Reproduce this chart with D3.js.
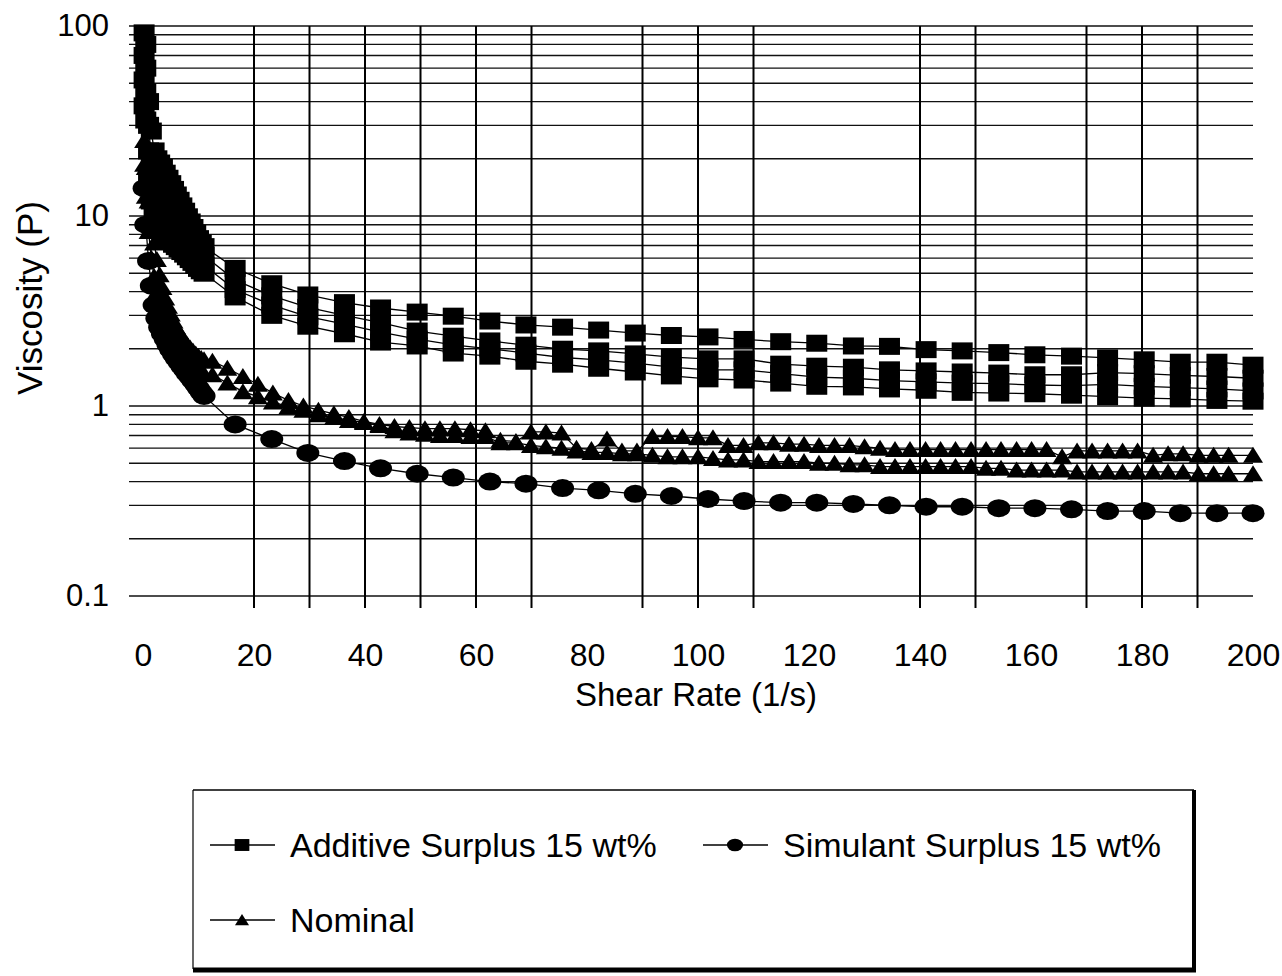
<!DOCTYPE html>
<html><head><meta charset="utf-8">
<script src="https://cdn.jsdelivr.net/npm/d3@7/dist/d3.min.js"></script>
<style>
body{margin:0;background:#fff}
svg{display:block}
text{font-family:"Liberation Sans",Arial,Helvetica,sans-serif;fill:#000}
</style>
</head><body>
<svg id="chart" width="1282" height="976"></svg>
<script>
// ---------- data ----------
const lowShear = [0.2,0.5,1,1.5,2,2.5,3,3.5,4,4.5,5,5.5,6,6.5,7,7.5,8,8.5,9,9.5,10,10.5,11];
const stepShear = [16.6,23.2,29.7,36.3,42.8,49.4,55.9,62.5,69.0,75.6,82.1,88.7,95.2,101.8,108.3,114.9,121.4,128.0,134.5,141.1,147.6,154.2,160.7,167.3,173.8,180.4,186.9,193.5,200.0];
const nominalStepShear = [12.5,15.2,18.0,20.7,23.4,26.2,28.9,31.6,34.4,37.1,39.8,42.6,45.3,48.0,50.8,53.5,56.2,59.0,61.7,64.4,67.2,69.9,72.6,75.4,78.1,80.8,83.6,86.3,89.0,91.8,94.5,97.2,100.0,102.7,105.4,108.2,110.9,113.6,116.4,119.1,121.8,124.6,127.3,130.0,132.8,135.5,138.2,141.0,143.7,146.4,149.2,151.9,154.6,157.4,160.1,162.8,165.6,168.3,171.0,173.8,176.5,179.2,182.0,184.7,187.4,190.2,192.9,195.6,200.0];

const additiveRun1 = [92,80,40,28,22,20,19,18,16.8,15.8,14.8,13.8,12.9,12.1,11.3,10.6,9.9,9.3,8.7,8.1,7.6,7.2,6.9,
  5.3,4.4,3.84,3.5,3.28,3.12,2.97,2.80,2.67,2.6,2.51,2.42,2.35,2.31,2.24,2.18,2.14,2.07,2.06,1.98,1.95,1.91,1.86,1.83,1.79,1.75,1.70,1.70,1.64];
const additiveRun2 = [70,60,30,20,16.5,14.8,13.6,12.8,12.0,11.4,10.9,10.4,9.9,9.5,9.1,8.7,8.3,7.9,7.5,7.1,6.8,6.5,6.2,
  4.6,3.8,3.3,3.0,2.75,2.48,2.33,2.2,2.09,1.99,1.95,1.88,1.81,1.77,1.77,1.66,1.62,1.6,1.55,1.53,1.51,1.49,1.46,1.46,1.5,1.48,1.45,1.43,1.4];
const additiveRun3 = [52,45,22,15,12.8,11.6,10.8,10.2,9.6,9.2,8.8,8.5,8.2,7.9,7.6,7.3,7.0,6.7,6.4,6.1,5.9,5.7,5.5,
  4.1,3.4,2.95,2.7,2.45,2.25,2.1,2.0,1.9,1.8,1.75,1.68,1.6,1.55,1.55,1.48,1.42,1.4,1.36,1.34,1.32,1.31,1.29,1.28,1.3,1.27,1.25,1.23,1.2];
const additiveRun4 = [38,32,16,12,10.3,9.4,8.8,8.3,8.0,7.7,7.4,7.1,6.9,6.7,6.5,6.3,6.1,5.9,5.7,5.5,5.3,5.15,5.0,
  3.75,3.0,2.63,2.4,2.17,2.07,1.9,1.83,1.72,1.66,1.58,1.51,1.44,1.39,1.37,1.32,1.27,1.26,1.23,1.21,1.18,1.17,1.16,1.14,1.12,1.10,1.09,1.07,1.06];
const simulantRun = [14,9,5.8,4.3,3.4,2.9,2.6,2.4,2.25,2.1,1.98,1.87,1.78,1.7,1.62,1.55,1.48,1.42,1.36,1.3,1.24,1.18,1.13,
  0.80,0.67,0.566,0.513,0.47,0.44,0.42,0.40,0.39,0.37,0.36,0.345,0.336,0.324,0.316,0.31,0.31,0.305,0.30,0.295,0.295,0.29,0.29,0.286,0.28,0.28,0.273,0.273,0.273];
const nominalRun1 = [25,18,12,8.8,7.2,5.9,4.9,4.2,3.7,3.35,3.05,2.8,2.6,2.45,2.3,2.2,2.1,2.02,1.95,1.88,1.82,1.78,1.75,
  1.72,1.58,1.43,1.30,1.17,1.07,1.00,0.95,0.91,0.87,0.83,0.80,0.78,0.77,0.76,0.76,0.76,0.75,0.74,0.66,0.65,0.73,0.73,0.72,0.60,0.59,0.67,0.58,0.58,
  0.69,0.69,0.69,0.68,0.68,0.62,0.62,0.64,0.64,0.63,0.63,0.62,0.62,0.62,0.61,0.60,0.59,0.59,0.59,0.59,0.59,0.59,0.59,0.59,0.59,0.59,0.59,0.54,
  0.58,0.58,0.58,0.58,0.58,0.55,0.56,0.56,0.55,0.55,0.55,0.55];
const nominalRun2 = [18.7,12.7,8.3,6,4.8,4.0,3.45,3.05,2.8,2.6,2.45,2.3,2.15,2.05,1.95,1.87,1.79,1.72,1.66,1.6,1.55,1.51,1.48,
  1.46,1.32,1.19,1.12,1.05,0.99,0.95,0.90,0.87,0.84,0.82,0.79,0.74,0.72,0.71,0.70,0.70,0.69,0.69,0.64,0.64,0.62,0.61,0.60,0.58,0.57,0.57,0.56,0.56,
  0.55,0.54,0.54,0.54,0.53,0.52,0.52,0.51,0.51,0.51,0.51,0.50,0.50,0.49,0.49,0.48,0.48,0.48,0.48,0.48,0.48,0.48,0.47,0.47,0.46,0.46,0.46,0.46,
  0.45,0.45,0.45,0.45,0.45,0.45,0.45,0.45,0.44,0.44,0.44,0.44];

const xTickValues = [0,20,40,60,80,100,120,140,160,180,200];
const yTickValues = [0.1,1,10,100];
const yTickLabels = ["0.1","1","10","100"];
const xGridValues = [20,30,40,50,60,70,90,100,110,140,150,170,180,190];
const seriesNames = ["Additive Surplus 15 wt%","Simulant Surplus 15 wt%","Nominal"];

// ---------- chart ----------
const svg = d3.select("#chart");
svg.append("rect").attr("width",1282).attr("height",976).attr("fill","#fff");

const x = d3.scaleLinear().domain([0,200]).range([143,1253]);
const y = d3.scaleLog().domain([0.1,100]).range([596,26]);

const zip = (xs, ys) => xs.map((v,i)=>[v, ys[i]]);
const lowPlusStep = lowShear.concat(stepShear);
const nominalShear = lowShear.concat(nominalStepShear);

const runs = [
  {type:"square", pts: zip(lowPlusStep, additiveRun1)},
  {type:"square", pts: zip(lowPlusStep, additiveRun2)},
  {type:"square", pts: zip(lowPlusStep, additiveRun3)},
  {type:"square", pts: zip(lowPlusStep, additiveRun4)},
  {type:"circle", pts: zip(lowPlusStep, simulantRun)},
  {type:"triangle", pts: zip(nominalShear, nominalRun1)},
  {type:"triangle", pts: zip(nominalShear, nominalRun2)}
];

// gridlines
const grid = svg.append("g");
grid.selectAll("line.h").data(y.ticks()).join("line")
  .attr("x1",129).attr("x2",x(200))
  .attr("y1",d=>y(d)).attr("y2",d=>y(d))
  .attr("stroke","#111").attr("stroke-width",1.4);
grid.selectAll("line.v").data(xGridValues).join("line")
  .attr("x1",d=>x(d)).attr("x2",d=>x(d))
  .attr("y1",y(100)).attr("y2",y(0.1)+12)
  .attr("stroke","#000").attr("stroke-width",2);

// lines
const line = d3.line().x(d=>x(d[0])).y(d=>y(d[1]));
svg.append("g").selectAll("path").data(runs).join("path")
  .attr("d",d=>line(d.pts)).attr("fill","none").attr("stroke","#000").attr("stroke-width",1.3);

// markers
function drawMarker(g, type, cx, cy, s){
  s = s || 1;
  if(type==="square"){
    g.append("rect").attr("x",cx-10.5*s).attr("y",cy-8.5*s).attr("width",21*s).attr("height",17*s).attr("fill","#000");
  } else if(type==="circle"){
    g.append("ellipse").attr("cx",cx).attr("cy",cy).attr("rx",11.5*s).attr("ry",9*s).attr("fill","#000");
  } else {
    g.append("path").attr("d",`M${cx},${cy-8.5*s}L${cx+10*s},${cy+7.5*s}L${cx-10*s},${cy+7.5*s}Z`).attr("fill","#000");
  }
}
const mg = svg.append("g");
runs.forEach(r=>{
  r.pts.forEach(p=>drawMarker(mg, r.type, x(p[0]), y(p[1])));
});

// axes labels
const xAxis = d3.axisBottom(x).tickValues(xTickValues).tickSize(0).tickPadding(0);
const xa = svg.append("g").attr("transform",`translate(0,655)`).call(xAxis);
xa.select(".domain").remove();
xa.selectAll("text").attr("font-size",32).attr("font-family","'Liberation Sans',Arial,sans-serif").attr("fill","#000").attr("dy","0.35em");

const yAxis = d3.axisLeft(y).tickValues(yTickValues).tickFormat((d,i)=>yTickLabels[i]).tickSize(0).tickPadding(0);
const ya = svg.append("g").attr("transform",`translate(109,0)`).call(yAxis);
ya.select(".domain").remove();
ya.selectAll("text").attr("font-size",31).attr("font-family","'Liberation Sans',Arial,sans-serif").attr("fill","#000");

svg.append("text").attr("x",696).attr("y",706).attr("text-anchor","middle").attr("font-size",33).text("Shear Rate (1/s)");
svg.append("text").attr("transform","translate(42,298) rotate(-90)").attr("text-anchor","middle").attr("font-size",35).text("Viscosity (P)");

// legend
const lg = svg.append("g");
lg.append("line").attr("x1",193).attr("x2",1194).attr("y1",790).attr("y2",790).attr("stroke","#000").attr("stroke-width",1.5);
lg.append("line").attr("x1",193).attr("x2",193).attr("y1",790).attr("y2",969).attr("stroke","#000").attr("stroke-width",1.2);
lg.append("line").attr("x1",1194).attr("x2",1194).attr("y1",790).attr("y2",972).attr("stroke","#000").attr("stroke-width",4);
lg.append("line").attr("x1",193).attr("x2",1196).attr("y1",970).attr("y2",970).attr("stroke","#000").attr("stroke-width",5);

const legendItems = [
  {name:seriesNames[0], type:"square", lx:210, ty:845},
  {name:seriesNames[1], type:"circle", lx:703, ty:845},
  {name:seriesNames[2], type:"triangle", lx:210, ty:920}
];
legendItems.forEach(it=>{
  lg.append("line").attr("x1",it.lx).attr("x2",it.lx+65).attr("y1",it.ty).attr("y2",it.ty).attr("stroke","#000").attr("stroke-width",1.5);
  drawMarker(lg, it.type, it.lx+32, it.ty, 0.7);
  lg.append("text").attr("x",it.lx+80).attr("y",it.ty+12).attr("font-size",34).text(it.name);
});
</script>
</body></html>
